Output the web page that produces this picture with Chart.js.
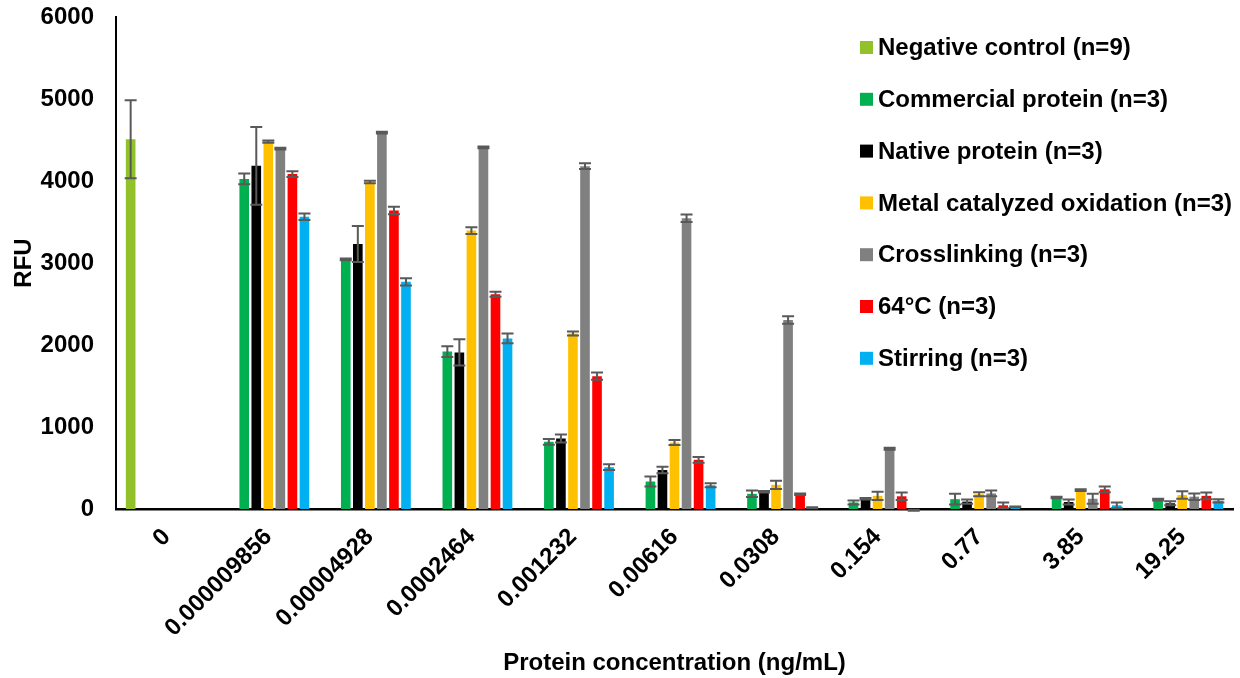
<!DOCTYPE html>
<html>
<head>
<meta charset="utf-8">
<script src="https://cdn.jsdelivr.net/npm/chart.js@4.4.1/dist/chart.umd.min.js"></script>
<style>
  html, body { margin: 0; padding: 0; background: #ffffff; }
  #wrap { width: 1240px; height: 678px; position: relative; }
</style>
</head>
<body>
<div id="wrap"><canvas id="chart" width="1240" height="678"></canvas></div>
<script>
// Protein concentrations (ng/mL) on the x axis
const categories = ['0', '0.000009856', '0.00004928', '0.0002464', '0.001232', '0.00616', '0.0308', '0.154', '0.77', '3.85', '19.25'];

// Mean RFU per condition and the matching error (± value)
const negativeControl    = [4510, null, null, null, null, null, null, null, null, null, null];
const negativeControlErr = [475,  null, null, null, null, null, null, null, null, null, null];

const commercial    = [null, 4025, 3045, 1920, 820, 335, 185, 80, 120, 140, 115];
const commercialErr = [null, 65, 10, 65, 35, 60, 40, 25, 65, 10, 10];

const native    = [null, 4185, 3232, 1910, 860, 475, 210, 125, 90, 85, 70];
const nativeErr = [null, 475, 220, 160, 50, 40, 10, 10, 25, 30, 25];

const metalOxidation    = [null, 4480, 3988, 3395, 2140, 810, 295, 160, 180, 230, 170];
const metalOxidationErr = [null, 15, 15, 40, 25, 30, 50, 50, 25, 10, 45];

const crosslinking    = [null, 4395, 4590, 4410, 4180, 3545, 2305, 735, 190, 125, 150];
const crosslinkingErr = [null, 10, 10, 10, 35, 45, 45, 12, 35, 60, 40];

const heat64    = [null, 4085, 3640, 2618, 1620, 600, 180, 155, 45, 240, 160];
const heat64Err = [null, 35, 45, 30, 45, 35, 10, 45, 35, 35, 40];

const stirring    = [null, 3565, 2770, 2080, 510, 290, 15, -15, 25, 45, 100];
const stirringErr = [null, 40, 45, 60, 35, 25, 5, 5, 5, 35, 20];

const seriesNames = [
  'Negative control (n=9)',
  'Commercial protein (n=3)',
  'Native protein (n=3)',
  'Metal catalyzed oxidation (n=3)',
  'Crosslinking (n=3)',
  '64°C (n=3)',
  'Stirring (n=3)'
];
const seriesColors = ['#92C12A', '#00B050', '#000000', '#FFC000', '#808080', '#FF0000', '#00B0F0'];
const seriesValues = [negativeControl, commercial, native, metalOxidation, crosslinking, heat64, stirring];
const seriesErrors = [negativeControlErr, commercialErr, nativeErr, metalOxidationErr, crosslinkingErr, heat64Err, stirringErr];

const yTicks = [0, 1000, 2000, 3000, 4000, 5000, 6000];

const FONT = "'Liberation Sans', Arial, sans-serif";

// Symmetric error bars with caps, drawn over each bar
const errorBars = {
  id: 'errorBars',
  afterDatasetsDraw(chart) {
    const ctx = chart.ctx;
    const y = chart.scales.y;
    ctx.save();
    ctx.strokeStyle = '#595959';
    ctx.lineWidth = 2;
    chart.data.datasets.forEach((ds, di) => {
      const meta = chart.getDatasetMeta(di);
      const errs = seriesErrors[di];
      meta.data.forEach((bar, i) => {
        const v = ds.data[i];
        const e = errs[i];
        if (v === null || e === null) return;
        const yTop = y.getPixelForValue(v + e);
        const yBot = y.getPixelForValue(v - e);
        const x = bar.x;
        const half = 6;
        ctx.beginPath();
        ctx.moveTo(x, yTop); ctx.lineTo(x, yBot);
        ctx.moveTo(x - half, yTop); ctx.lineTo(x + half, yTop);
        ctx.moveTo(x - half, yBot); ctx.lineTo(x + half, yBot);
        ctx.stroke();
      });
    });
    ctx.restore();
  }
};

// Legend stacked in the upper right, over the plot area
const sideLegend = {
  id: 'sideLegend',
  afterDraw(chart) {
    const ctx = chart.ctx;
    ctx.save();
    ctx.font = 'bold 24px ' + FONT;
    ctx.textBaseline = 'middle';
    ctx.textAlign = 'left';
    seriesNames.forEach((name, i) => {
      const cy = 47.5 + i * 51.8;
      ctx.fillStyle = seriesColors[i];
      ctx.fillRect(860, cy - 6.5, 13, 13);
      ctx.fillStyle = '#000000';
      ctx.fillText(name, 878, cy + 1);
    });
    ctx.restore();
  }
};

const datasets = seriesNames.map((name, i) => ({
  label: name,
  data: seriesValues[i],
  backgroundColor: seriesColors[i],
  borderWidth: 0,
  categoryPercentage: 0.83,
  barPercentage: 0.8,
  clip: false
}));

new Chart(document.getElementById('chart'), {
  type: 'bar',
  data: { labels: categories, datasets },
  plugins: [errorBars, sideLegend],
  options: {
    responsive: false,
    animation: false,
    layout: { padding: { top: 17, right: 7, bottom: 0, left: 0 } },
    plugins: {
      legend: { display: false },
      tooltip: { enabled: false }
    },
    scales: {
      x: {
        grid: { display: false },
        border: { display: true, color: '#000000', width: 2.5 },
        ticks: {
          autoSkip: false,
          maxRotation: 45,
          minRotation: 45,
          padding: 6,
          color: '#000000',
          font: { family: FONT, size: 24, weight: 'bold' }
        },
        title: {
          display: true,
          text: 'Protein concentration (ng/mL)',
          color: '#000000',
          padding: { top: 0, bottom: 0 },
          font: { family: FONT, size: 24, weight: 'bold' }
        },
        afterFit(scale) { scale.height = 169; }
      },
      y: {
        min: 0,
        max: 6000,
        afterBuildTicks(scale) { scale.ticks = yTicks.map(v => ({ value: v })); },
        grid: { display: false },
        border: { display: true, color: '#000000', width: 2 },
        ticks: {
          padding: 14,
          color: '#000000',
          callback: (v) => String(v),
          font: { family: FONT, size: 24, weight: 'bold' }
        },
        title: {
          display: true,
          text: 'RFU',
          color: '#000000',
          padding: { top: 10, bottom: 0 },
          font: { family: FONT, size: 24, weight: 'bold' }
        },
        afterFit(scale) {
          scale.width = 116;
          scale.paddingTop = 0;
          scale.paddingBottom = 0;
        }
      }
    }
  }
});
</script>
</body>
</html>
